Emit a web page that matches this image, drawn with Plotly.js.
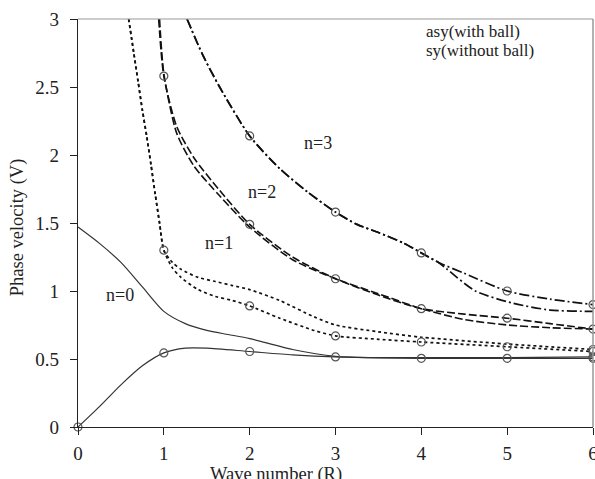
<!DOCTYPE html>
<html>
<head>
<meta charset="utf-8">
<script src="https://cdn.plot.ly/plotly-3.0.1.min.js"></script>
<style>html,body{margin:0;padding:0;background:#fff;}#chart{width:595px;height:479px;}</style>
</head>
<body>
<div id="chart"></div>
<script>
// ---- data ----
// n=0 (solid)
const n0aX = [0, 0.25, 0.5, 0.75, 1, 1.25, 1.5, 1.75, 2, 2.5, 3, 3.5, 4, 5, 6];
const n0aY = [1.47, 1.35, 1.21, 1.03, 0.85, 0.76, 0.71, 0.68, 0.65, 0.57, 0.52, 0.51, 0.51, 0.51, 0.515];
const n0aMk = [6];
const n0bX = [0, 0.25, 0.5, 0.75, 1, 1.25, 1.5, 2, 2.5, 3, 4, 5, 6];
const n0bY = [0, 0.15, 0.31, 0.45, 0.545, 0.58, 0.58, 0.555, 0.53, 0.515, 0.505, 0.505, 0.505];
const n0bMk = [0, 1, 2, 3, 4, 5, 6];
// n=1 (dotted)
const n1aX = [0.59, 0.65, 0.7, 0.75, 0.8, 0.85, 0.9, 0.95, 1.0, 1.1, 1.2, 1.4, 1.6, 1.8, 2.0, 2.35, 2.75, 3.0, 3.5, 4, 5, 6];
const n1aY = [3.0, 2.75, 2.54, 2.33, 2.14, 1.93, 1.71, 1.50, 1.30, 1.21, 1.16, 1.10, 1.07, 1.04, 1.01, 0.93, 0.81, 0.75, 0.70, 0.66, 0.61, 0.57];
const n1aMk = [6];
const n1bX = [0.59, 0.65, 0.7, 0.75, 0.8, 0.85, 0.9, 0.95, 1.0, 1.1, 1.2, 1.4, 1.6, 1.8, 2.0, 2.35, 2.75, 3.0, 3.5, 4, 5, 6];
const n1bY = [3.0, 2.75, 2.54, 2.33, 2.14, 1.93, 1.71, 1.50, 1.30, 1.17, 1.10, 1.01, 0.96, 0.93, 0.89, 0.80, 0.71, 0.67, 0.645, 0.625, 0.59, 0.555];
const n1bMk = [1, 2, 3, 4, 5, 6];
// n=2 (dashed)
const n2aX = [0.94, 1.0, 1.15, 1.35, 1.65, 2.0, 2.5, 3.0, 3.5, 4.0, 4.5, 5.0, 5.5, 6.0];
const n2aY = [3.0, 2.58, 2.21, 1.98, 1.74, 1.49, 1.25, 1.09, 0.97, 0.87, 0.83, 0.80, 0.76, 0.72];
const n2aMk = [1, 2, 3, 4, 5, 6];
const n2bX = [0.95, 1.0, 1.15, 1.35, 1.65, 2.0, 2.5, 3.0, 3.5, 4.0, 4.5, 5.0, 5.5, 6.0];
const n2bY = [3.0, 2.6, 2.16, 1.92, 1.70, 1.47, 1.23, 1.09, 0.98, 0.87, 0.79, 0.75, 0.73, 0.72];
const n2bMk = [];
// n=3 (dash-dot)
const n3aX = [1.27, 1.45, 1.65, 2.0, 2.35, 2.67, 3.0, 3.25, 3.5, 3.8, 4.0, 4.2, 4.5, 5.0, 5.5, 6.0];
const n3aY = [3.0, 2.74, 2.50, 2.14, 1.90, 1.73, 1.58, 1.49, 1.43, 1.35, 1.28, 1.21, 1.13, 1.00, 0.94, 0.90];
const n3aMk = [2, 3, 4, 5, 6];
const n3bX = [1.27, 1.45, 1.65, 2.0, 2.35, 2.67, 3.0, 3.25, 3.5, 3.8, 4.0, 4.2, 4.3, 4.63, 5.07, 5.5, 6.0];
const n3bY = [3.0, 2.74, 2.50, 2.14, 1.90, 1.73, 1.58, 1.49, 1.43, 1.35, 1.28, 1.21, 1.16, 1.00, 0.91, 0.86, 0.85];
const n3bMk = [];

const curveLabels = ["n=0", "n=1", "n=2", "n=3"];
const curveLabelX = [0.49, 1.64, 2.14, 2.80];
const curveLabelY = [0.97, 1.35, 1.73, 2.09];
const legendTexts = ["asy(with ball)", "sy(without ball)"];
const xTicks = [0, 1, 2, 3, 4, 5, 6];
const yTicks = [0, 0.5, 1, 1.5, 2, 2.5, 3];
const yTickText = ["0", "0.5", "1", "1.5", "2", "2.5", "3"];
const xTitle = "Wave number (R)";
const yTitle = "Phase velocity (V)";

// ---- build traces ----
const FONT = "Liberation Serif, Times New Roman, serif";
function curve(x, y, dash, color, width) {
  return {x: x, y: y, type: "scatter", mode: "lines",
    line: {color: color, width: width, dash: dash, shape: "spline", smoothing: 0.7},
    hoverinfo: "skip", showlegend: false, cliponaxis: true};
}
function markers(x, y, mk) {
  const mx = [], my = [];
  x.forEach((v, i) => { if (mk.indexOf(v) >= 0) { mx.push(v); my.push(y[i]); } });
  return {x: mx, y: my, type: "scatter", mode: "markers",
    marker: {symbol: "circle-open", size: 8, color: "#555", line: {width: 1.2, color: "#555"}},
    hoverinfo: "skip", showlegend: false, cliponaxis: false};
}
const series = [
  [n0aX, n0aY, n0aMk, "solid", "#333", 1.2],
  [n0bX, n0bY, n0bMk, "solid", "#333", 1.2],
  [n1aX, n1aY, n1aMk, "dot", "#111", 1.7],
  [n1bX, n1bY, n1bMk, "dot", "#111", 1.7],
  [n2aX, n2aY, n2aMk, "8px,3px", "#111", 1.6],
  [n2bX, n2bY, n2bMk, "8px,3px", "#111", 1.6],
  [n3aX, n3aY, n3aMk, "10px,3px,2px,3px", "#111", 1.7],
  [n3bX, n3bY, n3bMk, "10px,3px,2px,3px", "#111", 1.7]
];
const data = [];
series.forEach(s => data.push(curve(s[0], s[1], s[3], s[4], s[5])));
series.forEach(s => { if (s[2].length) data.push(markers(s[0], s[1], s[2])); });

const annotations = [];
curveLabels.forEach((t, i) => annotations.push({x: curveLabelX[i], y: curveLabelY[i], xref: "x", yref: "y",
  text: t, showarrow: false, font: {family: FONT, size: 18, color: "#222"}}));
legendTexts.forEach((t, i) => annotations.push({x: 0.672, y: 0.97 - i * 0.048, xref: "paper", yref: "paper",
  xanchor: "left", yanchor: "middle", text: t, showarrow: false, font: {family: FONT, size: 17, color: "#222"}}));
annotations.push({x: 0.385, y: -0.117, xref: "paper", yref: "paper", xanchor: "center", yanchor: "middle",
  text: xTitle, showarrow: false, font: {family: FONT, size: 18.5, color: "#222"}});
annotations.push({x: -0.118, y: 0.49, xref: "paper", yref: "paper", xanchor: "center", yanchor: "middle",
  textangle: -90, text: yTitle, showarrow: false, font: {family: FONT, size: 18.5, color: "#222"}});

const layout = {
  width: 595, height: 479,
  margin: {l: 78, r: 2, t: 19, b: 52, pad: 0},
  paper_bgcolor: "#fff", plot_bgcolor: "#fff",
  showlegend: false,
  xaxis: {range: [0, 6], tickvals: xTicks, ticks: "outside", ticklen: 7, tickcolor: "#222",
    showline: true, linecolor: "#222", linewidth: 1.2, showgrid: false, zeroline: false,
    ticklabeloverflow: "allow", ticklabelstandoff: 2,
    tickfont: {family: FONT, size: 19, color: "#222"}, fixedrange: true},
  yaxis: {range: [0, 3], tickvals: yTicks, ticktext: yTickText, ticks: "outside", ticklen: 7, tickcolor: "#222",
    showline: true, linecolor: "#222", linewidth: 1.2, showgrid: false, zeroline: false,
    ticklabeloverflow: "allow", ticklabelstandoff: 7,
    tickfont: {family: FONT, size: 19, color: "#222"}, fixedrange: true},
  shapes: [
    {type: "line", xref: "paper", yref: "paper", x0: 0, x1: 1, y0: 1, y1: 1, line: {color: "#999", width: 1.2}},
    {type: "line", xref: "paper", yref: "paper", x0: 1, x1: 1, y0: 0, y1: 1, line: {color: "#999", width: 1.5}}
  ],
  annotations: annotations
};
Plotly.newPlot("chart", data, layout, {staticPlot: true, displayModeBar: false});
</script>
</body>
</html>
